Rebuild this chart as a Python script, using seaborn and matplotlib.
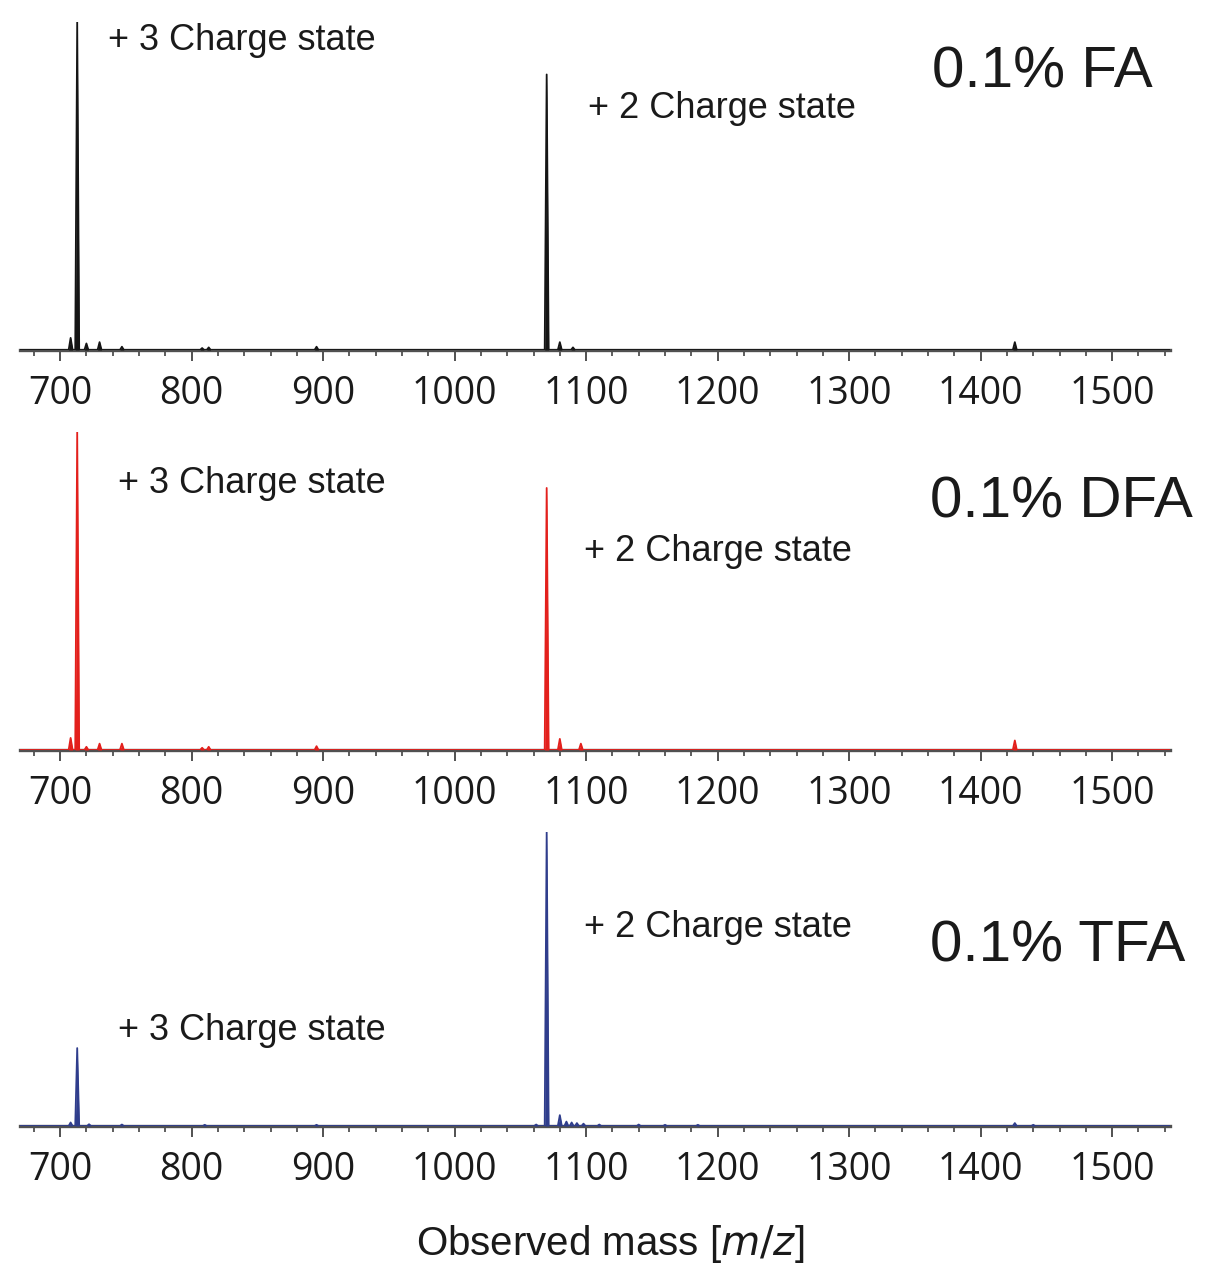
import numpy as np
import pandas as pd
import matplotlib
matplotlib.use("Agg")
import matplotlib.pyplot as plt
import seaborn as sns

sns.set_theme(style="white")
plt.rcParams['font.family'] = ['Liberation Sans', 'DejaVu Sans']

# ---------------- data ----------------
panel_labels = ["0.1% FA", "0.1% DFA", "0.1% TFA"]
panel_colors = ["#151515", "#e3201c", "#2f3d8c"]

fa_mz  = [708, 713, 720, 730, 747, 808, 813, 895, 1070, 1080, 1090, 1426]
fa_int = [3.7, 100, 2.0, 2.4, 1.0, 0.6, 0.8, 1.0, 84.0, 2.4, 0.8, 2.4]

dfa_mz  = [708, 713, 720, 730, 747, 808, 813, 895, 1070, 1080, 1096, 1426]
dfa_int = [3.8, 100, 1.0, 2.0, 2.0, 0.7, 1.0, 1.2, 82.4, 3.5, 2.0, 3.0]

tfa_mz  = [708, 713, 722, 747, 810, 895, 1062, 1070, 1080, 1085, 1089, 1093, 1098, 1110, 1140, 1160, 1185, 1426, 1440]
tfa_int = [1.2, 26.5, 0.6, 0.5, 0.4, 0.4, 0.5, 100, 3.7, 1.5, 1.2, 1.0, 0.8, 0.5, 0.5, 0.4, 0.4, 1.0, 0.4]

panels_mz = [fa_mz, dfa_mz, tfa_mz]
panels_int = [fa_int, dfa_int, tfa_int]

major_ticks = [700, 800, 900, 1000, 1100, 1200, 1300, 1400, 1500]
minor_ticks = list(range(680, 1541, 20))
x_limits = (669.5, 1544.0)

annot_text3 = "+ 3 Charge state"
annot_text2 = "+ 2 Charge state"
xlabel_text = "Observed mass [$m/z$]"

# ---------------- layout (figure pixels) ----------------
W, H = 1217, 1280
fig = plt.figure(figsize=(W / 100, H / 100), dpi=100)

# (baseline_y, top_y) in pixels for each panel
panel_px = [(350, 22), (750, 432), (1126, 832)]
left_px, right_px = 20, 1170

# label positions: (x_left, baseline_y) in pixels
plus3_pos = [(108, 50), (118, 493), (118, 1040)]
plus2_pos = [(588, 118), (584, 561), (584, 937)]
title_pos = [(932, 87), (930, 517), (930, 962)]

half_width = 1.5  # peak half width in m/z units


def profile(mz, inten):
    xs = [x_limits[0]]
    ys = [0.0]
    for m, h in sorted(zip(mz, inten)):
        xs += [m - half_width, m, m + half_width]
        ys += [0.0, h, 0.0]
    xs.append(x_limits[1])
    ys.append(0.0)
    return pd.DataFrame({"mz": xs, "intensity": ys})


for i in range(3):
    base, top = panel_px[i]
    ax = fig.add_axes([left_px / W, 1 - base / H, (right_px - left_px) / W, (base - top) / H])
    df = profile(panels_mz[i], panels_int[i])
    ax.fill_between(df["mz"], df["intensity"], 0, color=panel_colors[i], lw=0, zorder=3)
    sns.lineplot(data=df, x="mz", y="intensity", ax=ax, color=panel_colors[i],
                 lw=1.3, sort=False, estimator=None, zorder=4)
    ax.set_xlim(*x_limits)
    ax.set_ylim(0, max(panels_int[i]))
    ax.set_xlabel("")
    ax.set_ylabel("")
    ax.set_yticks([])
    for s in ["top", "right", "left"]:
        ax.spines[s].set_visible(False)
    ax.spines["bottom"].set_color("#505050")
    ax.spines["bottom"].set_linewidth(2.4)
    ax.spines["bottom"].set_zorder(2)
    ax.set_xticks(major_ticks)
    ax.set_xticks(minor_ticks, minor=True)
    ax.set_xticklabels([str(t) for t in major_ticks])
    ax.tick_params(axis="x", which="major", direction="out", length=8, width=1.2,
                   color="#333333", pad=10, labelsize=27, labelcolor="#1a1a1a", bottom=True)
    ax.tick_params(axis="x", which="minor", direction="out", length=4, width=1.1,
                   color="#333333", bottom=True)
    for lab in ax.get_xticklabels():
        lab.set_family(["Open Sans", "DejaVu Sans"])
    ax.patch.set_alpha(0)

    fig.text(plus3_pos[i][0] / W, 1 - plus3_pos[i][1] / H, annot_text3, fontsize=26,
             color="#1a1a1a", ha="left", va="baseline")
    fig.text(plus2_pos[i][0] / W, 1 - plus2_pos[i][1] / H, annot_text2, fontsize=26,
             color="#1a1a1a", ha="left", va="baseline")
    fig.text(title_pos[i][0] / W, 1 - title_pos[i][1] / H, panel_labels[i], fontsize=42,
             color="#1a1a1a", ha="left", va="baseline")

fig.text(610 / W, 1 - 1255 / H, xlabel_text, fontsize=29, color="#1a1a1a",
         ha="center", va="baseline")

fig.savefig("out.png", dpi=100, facecolor="white")
